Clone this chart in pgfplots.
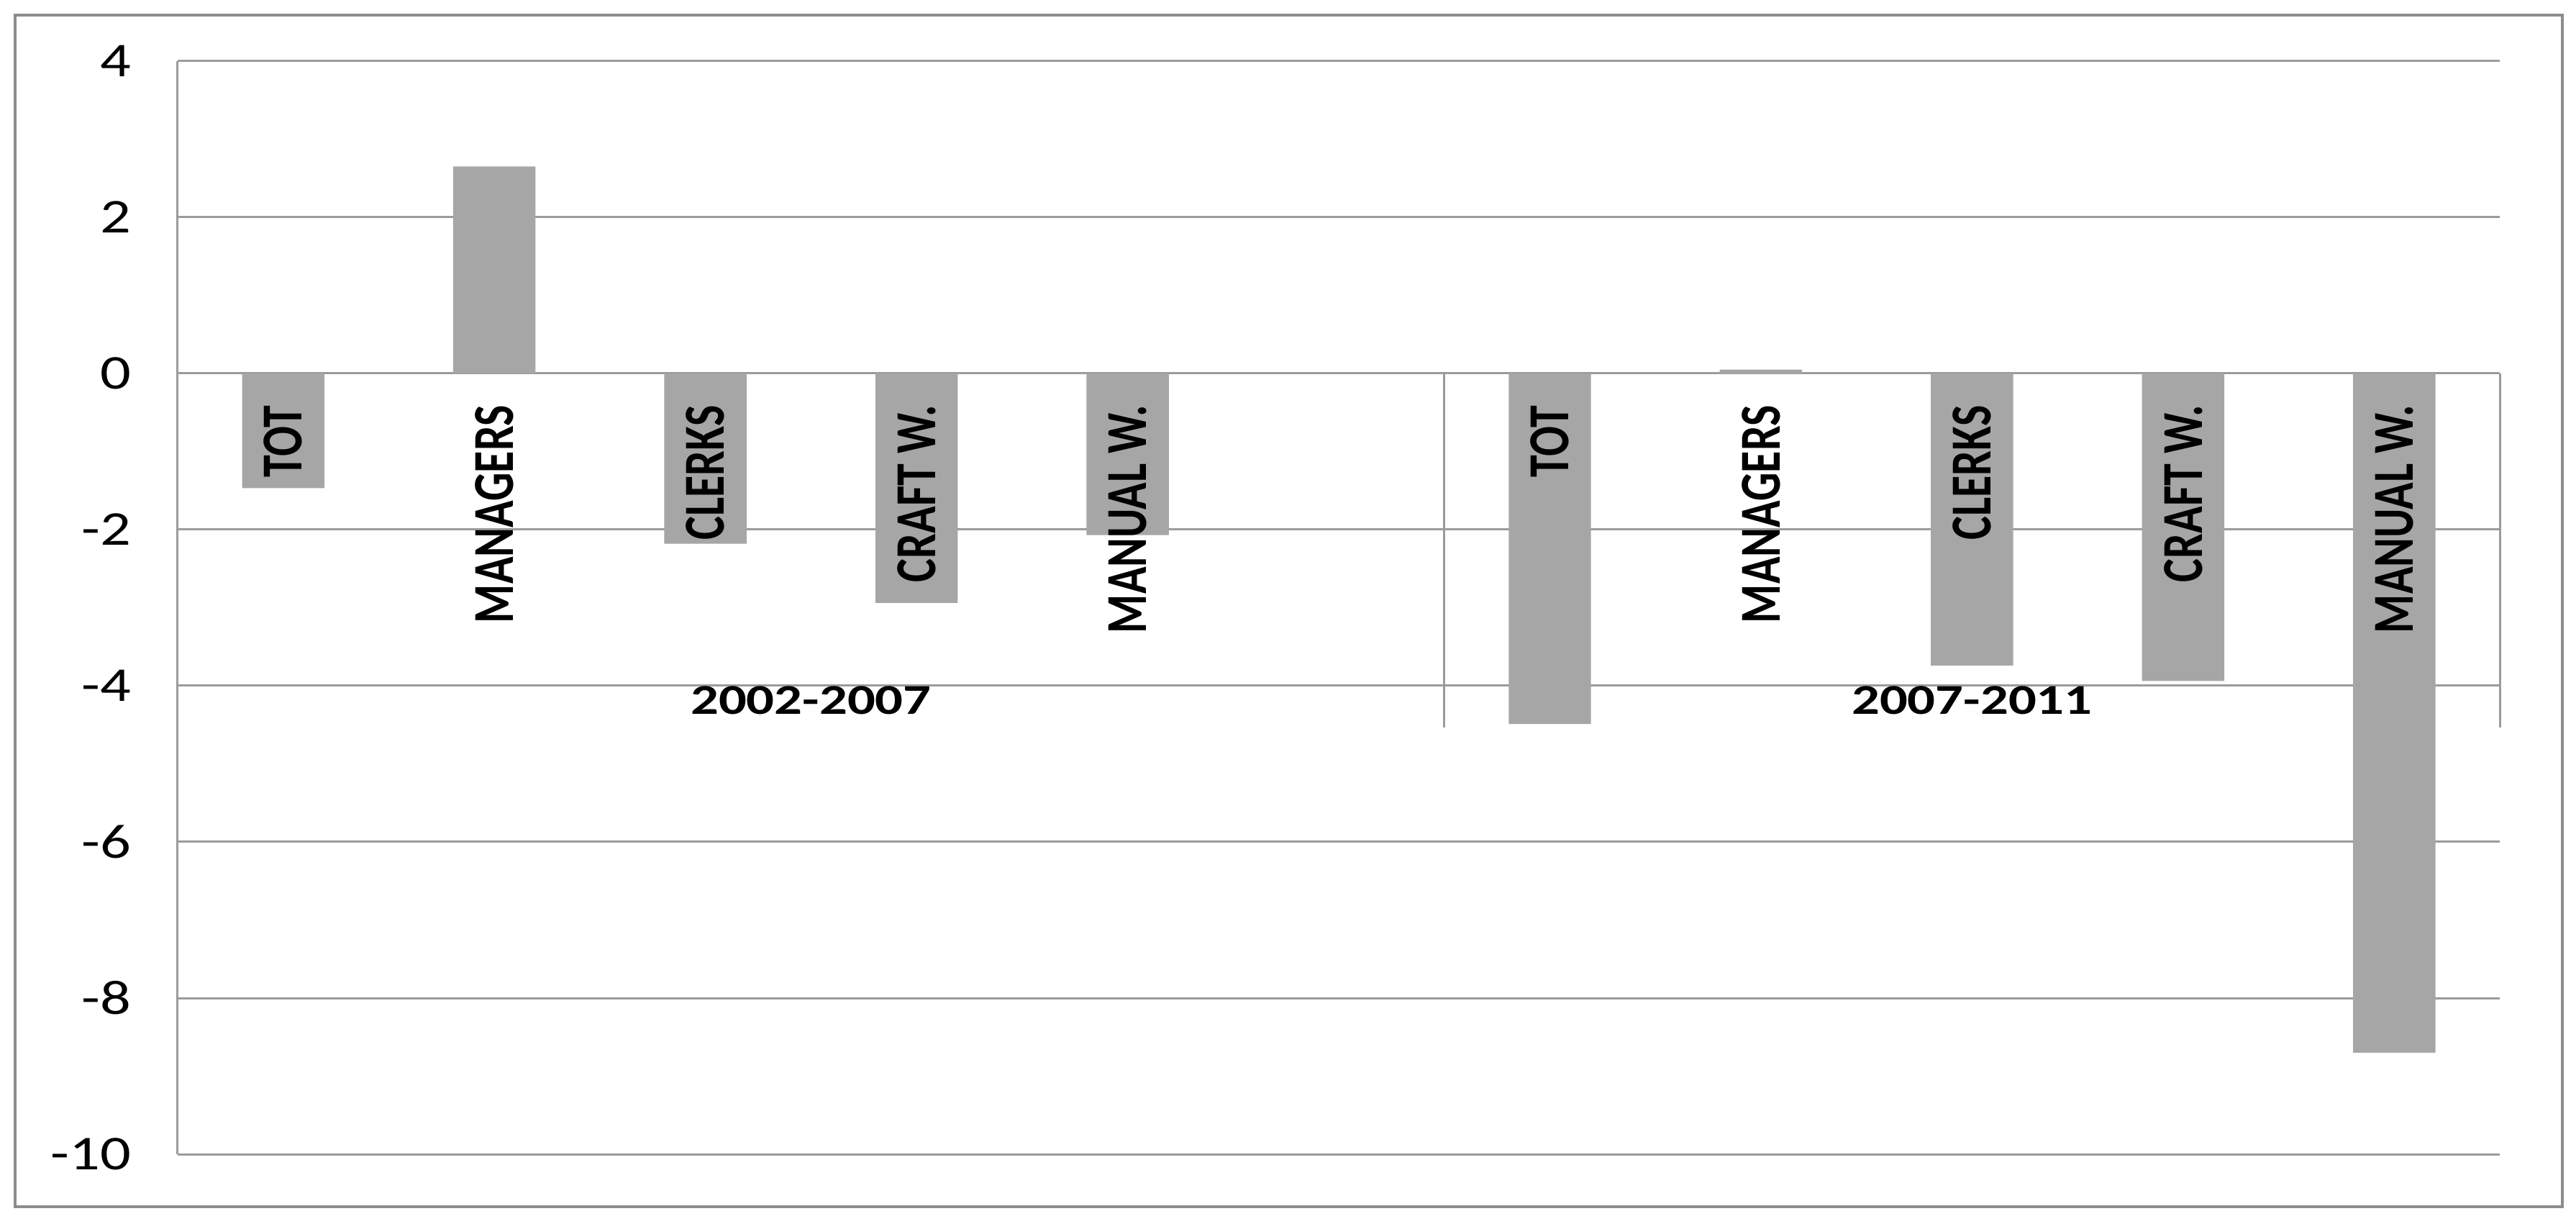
\documentclass[border=0pt]{standalone}
\usepackage{fontspec}
\setmainfont{Carlito}
\usepackage{pgfplots}
\pgfplotsset{compat=1.18}
\definecolor{barcol}{RGB}{166,166,166}
\definecolor{gridcol}{RGB}{155,155,155}
\definecolor{framecol}{RGB}{140,140,140}
\newcommand{\catlab}[1]{\scalebox{1}[1.3]{\fontsize{12.4}{14}\selectfont\bfseries #1}}
\newcommand{\grplab}[1]{\scalebox{1.3}[1]{\fontsize{11.8}{14}\selectfont\bfseries #1}}
\newcommand{\ticklab}[1]{\scalebox{1.25}[1]{\fontsize{13.5}{15}\selectfont #1}}
\begin{document}
\begin{tikzpicture}
\useasboundingbox (-49.4pt,-19.2pt) rectangle (666.8pt,320.8pt);
\draw[framecol, line width=0.7pt] (-45.2pt,-14.6pt) rectangle (663pt,316.6pt);
\begin{axis}[
  at={(0,0)}, anchor=south west,
  scale only axis, width=645.6pt, height=303.8pt,
  xmin=-0.5, xmax=10.5, ymin=-10, ymax=4,
  xtick=\empty,
  ytick={-10,-8,-6,-4,-2,0,2,4},
  yticklabels={{\ticklab{-10}},{\ticklab{-8}},{\ticklab{-6}},{\ticklab{-4}},{\ticklab{-2}},{\ticklab{0}},{\ticklab{2}},{\ticklab{4}}},
  yticklabel style={anchor=east, xshift=-9.5pt},
  ymajorgrids, grid style={gridcol, line width=0.6pt},
  axis line style={draw=none},
  major tick length=0pt,
  clip=false,
]
\addplot[ybar, bar width=0.39, fill=barcol, draw=none] coordinates {
  (0,-1.47) (1,2.65) (2,-2.18) (3,-2.94) (4,-2.07)
  (6,-4.49) (7,0.05) (8,-3.74) (9,-3.94) (10,-8.70)
};
\draw[gridcol, line width=0.6pt] (axis cs:-0.5,-10) -- (axis cs:-0.5,4);
\draw[gridcol, line width=0.6pt] (axis cs:5.5,0) -- (axis cs:5.5,-4.53);
\draw[gridcol, line width=0.6pt] (axis cs:10.5,0) -- (axis cs:10.5,-4.53);
\node[rotate=90, anchor=east, inner sep=0pt] at (axis cs:0,-0.40) {\catlab{TOT}};
\node[rotate=90, anchor=east, inner sep=0pt] at (axis cs:1,-0.40) {\catlab{MANAGERS}};
\node[rotate=90, anchor=east, inner sep=0pt] at (axis cs:2,-0.40) {\catlab{CLERKS}};
\node[rotate=90, anchor=east, inner sep=0pt] at (axis cs:3,-0.40) {\catlab{CRAFT W.}};
\node[rotate=90, anchor=east, inner sep=0pt] at (axis cs:4,-0.40) {\catlab{MANUAL W.}};
\node[rotate=90, anchor=east, inner sep=0pt] at (axis cs:6,-0.40) {\catlab{TOT}};
\node[rotate=90, anchor=east, inner sep=0pt] at (axis cs:7,-0.40) {\catlab{MANAGERS}};
\node[rotate=90, anchor=east, inner sep=0pt] at (axis cs:8,-0.40) {\catlab{CLERKS}};
\node[rotate=90, anchor=east, inner sep=0pt] at (axis cs:9,-0.40) {\catlab{CRAFT W.}};
\node[rotate=90, anchor=east, inner sep=0pt] at (axis cs:10,-0.40) {\catlab{MANUAL W.}};
\node[inner sep=0pt] at (axis cs:2.5,-4.19) {\grplab{2002-2007}};
\node[inner sep=0pt] at (axis cs:8,-4.19) {\grplab{2007-2011}};
\end{axis}
\end{tikzpicture}
\end{document}
